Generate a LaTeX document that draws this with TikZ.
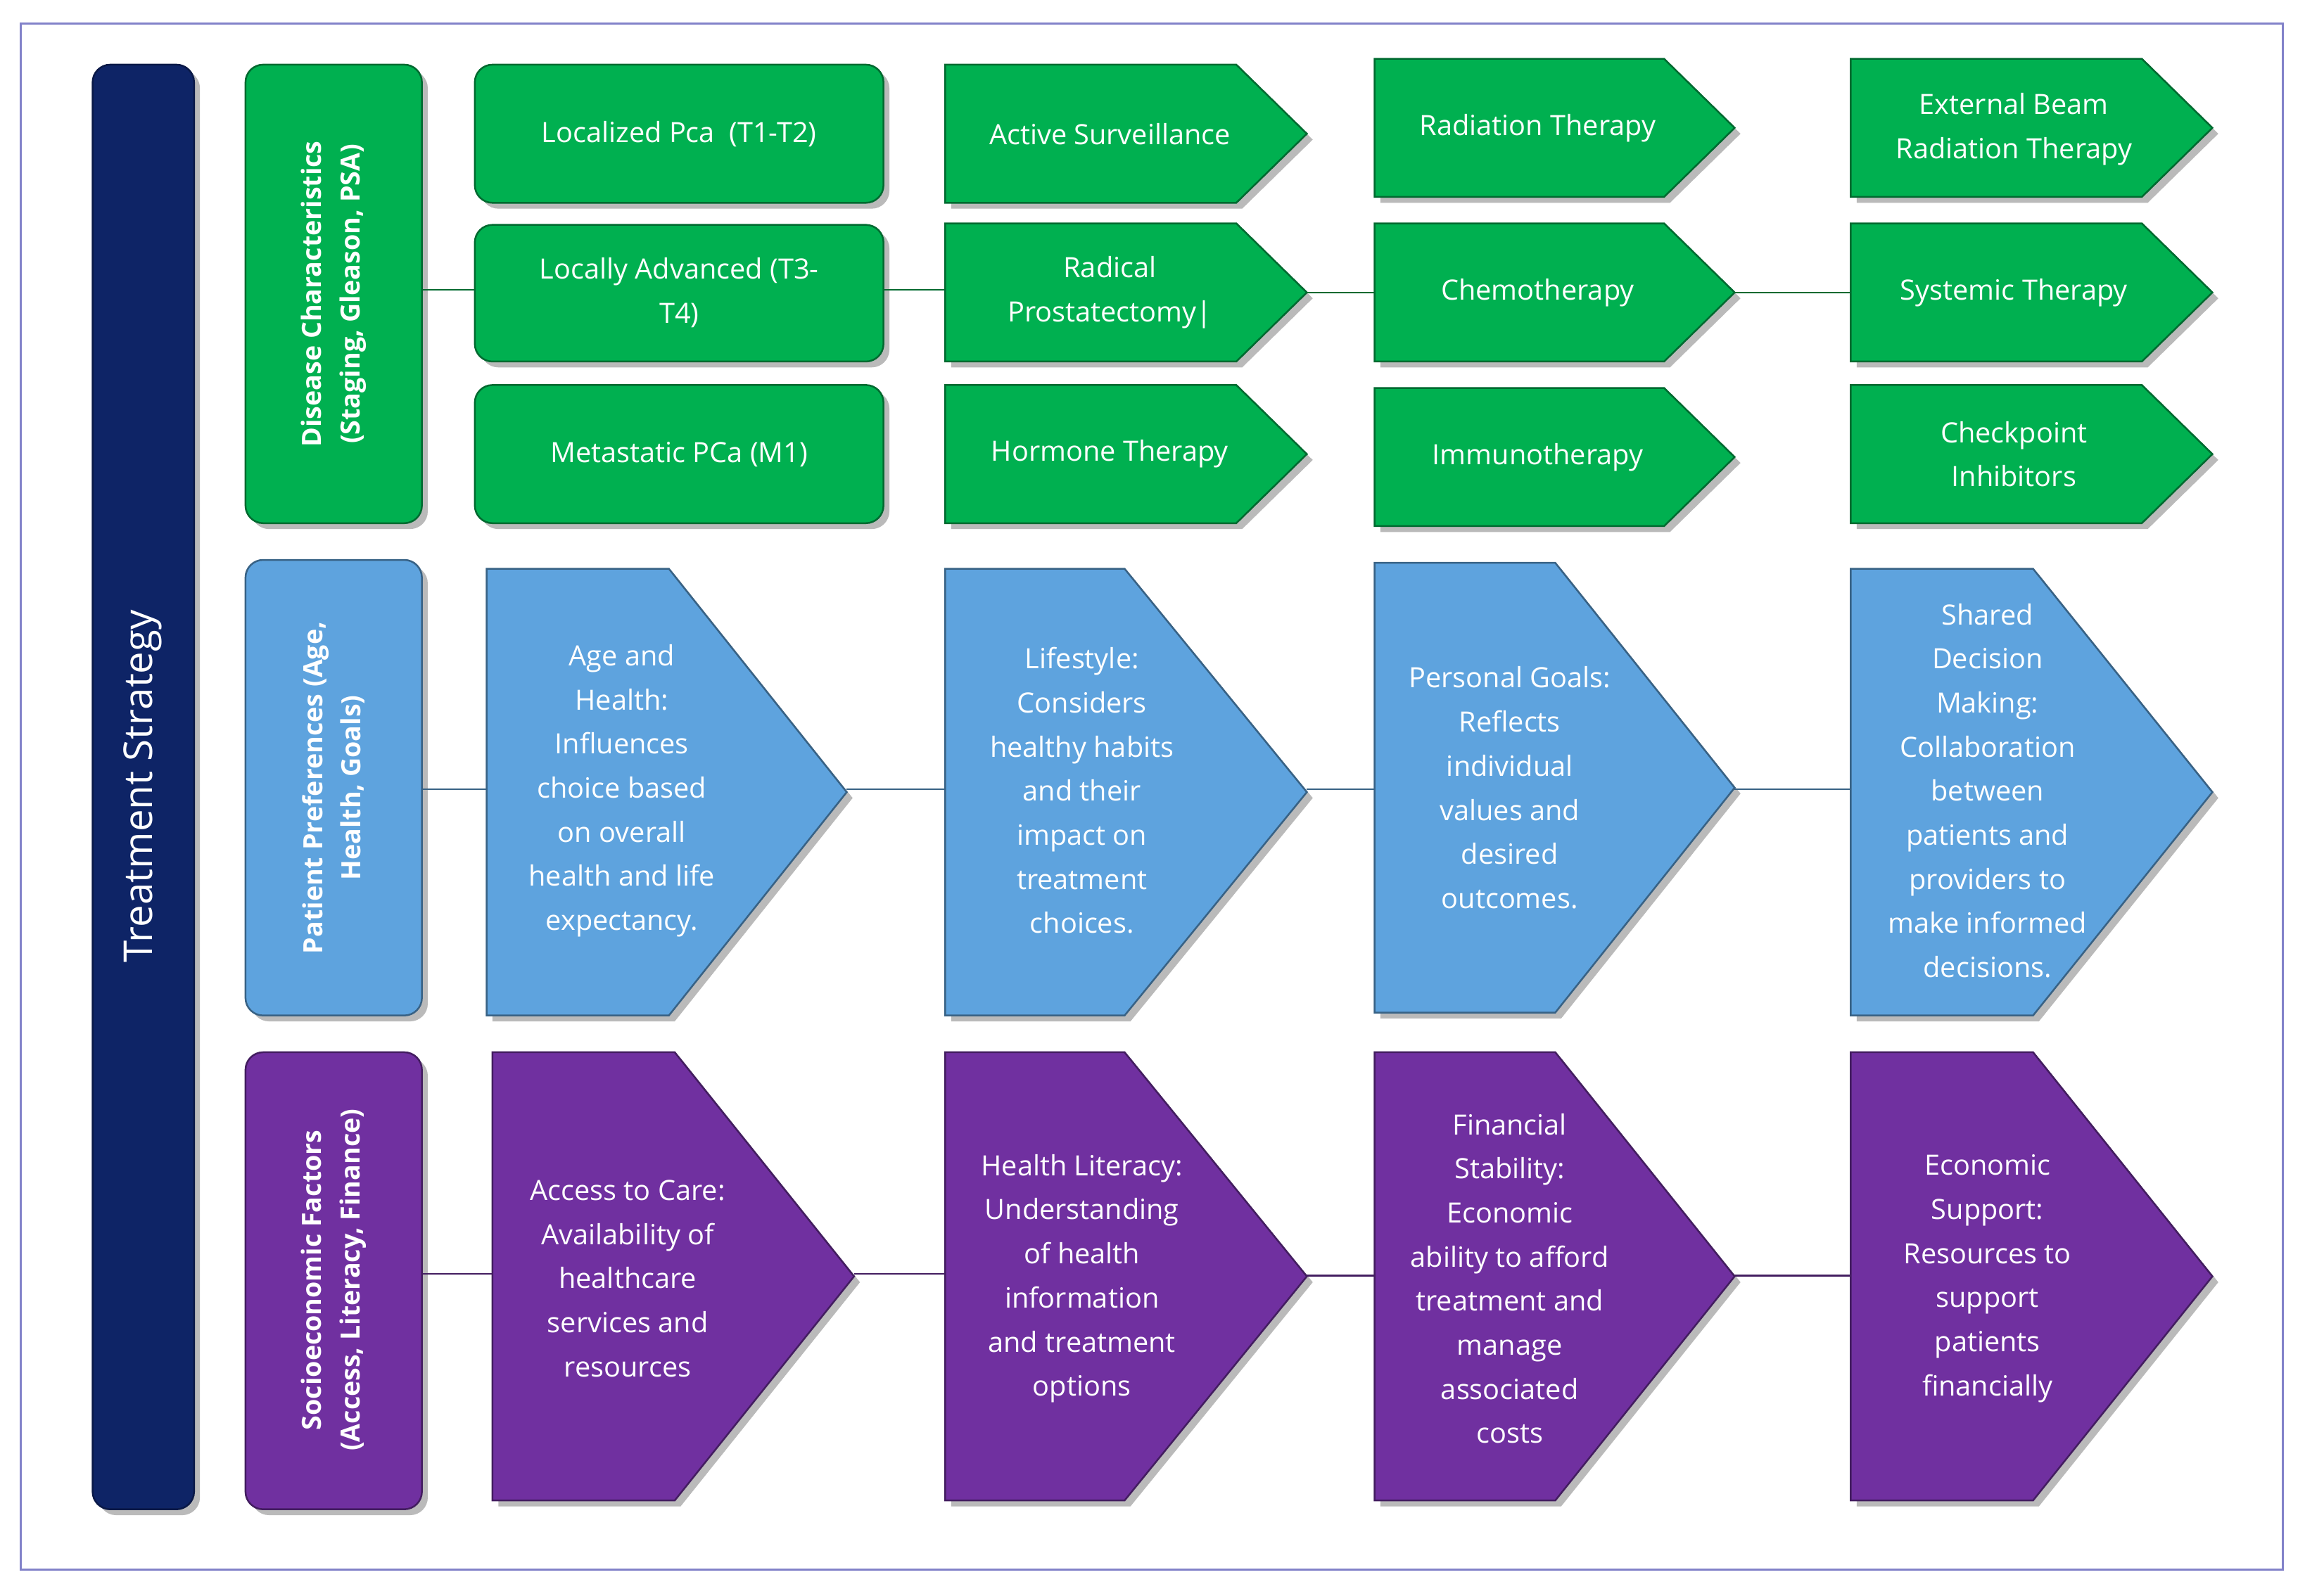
\documentclass[tikz,border=0pt]{standalone}
\usepackage{fontspec}
\setmainfont{Open Sans}
\begin{document}
\begin{tikzpicture}[x=1pt,y=-1pt,
  txt/.style={text=white,align=center,font=\fontsize{19}{30}\selectfont},
  bold/.style={text=white,align=center,font=\bfseries\fontsize{18}{26}\selectfont},
  gfill/.style={fill=green!60!black!95!teal,draw=green!35!black,line width=1.2pt},
  bfill/.style={fill=cyan!20!blue!55!white,draw=blue!50!black!70,line width=1.2pt},
  pfill/.style={fill=violet!85!purple!90!white,draw=violet!60!black,line width=1.2pt},
  shad/.style={fill=black!45,draw=none,opacity=0.6},
  conn/.style={draw=#1,line width=1pt}]
\definecolor{gC}{HTML}{00B050}\definecolor{bC}{HTML}{5EA3DE}\definecolor{pC}{HTML}{7030A0}
\definecolor{nC}{HTML}{0E2466}
\tikzset{gfill/.style={fill=gC,draw=gC!60!black,line width=1.2pt},
  bfill/.style={fill=bC,draw=bC!60!black,line width=1.2pt},
  pfill/.style={fill=pC,draw=pC!60!black,line width=1.2pt}}
\useasboundingbox (0,0) rectangle (1568,1086);
\fill[white] (0,0) rectangle (1568,1086);
\draw[draw=gray!60!blue!70,line width=1.2pt] (14,16) rectangle (1553,1068);
% chevron macro: x1 y1 x2 y2 tipstart style
\newcommand\chev[6]{%
 \fill[shad] (#1+4,#2+4) -- (#5+4,#2+4) -- (#3+4,{(#2+#4)/2+4}) -- (#5+4,#4+4) -- (#1+4,#4+4) -- cycle;
 \path[#6] (#1,#2) -- (#5,#2) -- (#3,{(#2+#4)/2}) -- (#5,#4) -- (#1,#4) -- cycle;}
\newcommand\rbox[5]{%
 \fill[shad,rounded corners=12pt] (#1+4,#2+4) rectangle (#3+4,#4+4);
 \path[#5,rounded corners=12pt] (#1,#2) rectangle (#3,#4);}
% treatment strategy
\rbox{63}{44}{132}{1027}{fill=nC,draw=nC!70!black,line width=1.2pt}
\node[rotate=90,text=white,font=\fontsize{27}{32}\selectfont] (ts) at (97,535) {Treatment Strategy};
% categories
\rbox{167}{44}{287}{356}{gfill}
\rbox{167}{381}{287}{691}{bfill}
\rbox{167}{716}{287}{1027}{pfill}
\node[bold,rotate=90] (c1) at (227,200) {Disease Characteristics\\(Staging, Gleason, PSA)};
\node[bold,rotate=90] (c2) at (227,536) {Patient Preferences (Age,\\Health, Goals)};
\node[bold,rotate=90] (c3) at (227,871) {Socioeconomic Factors\\(Access, Literacy, Finance)};
\coordinate (c1r) at (287,197); \coordinate (c2r) at (287,537); \coordinate (c3r) at (287,867);
% green column 1
\rbox{323}{44}{601}{138}{gfill}
\rbox{323}{153}{601}{246}{gfill}
\rbox{323}{262}{601}{356}{gfill}
\node[txt] (g11) at (462,91) {Localized Pca\ \ (T1-T2)};
\node[txt] (g12) at (462,199) {Locally Advanced (T3-\\T4)};
\node[txt] (g13) at (462,309) {Metastatic PCa (M1)};
% green col 2
\chev{643}{44}{889}{138}{841}{gfill}
\chev{643}{152}{889}{246}{841}{gfill}
\chev{643}{262}{889}{356}{841}{gfill}
\node[txt] (g21) at (755,91) {Active Surveillance};
\node[txt] (g22) at (755,199) {Radical\\Prostatectomy|};
\node[txt] (g23) at (755,309) {Hormone Therapy};
% green col 3
\chev{935}{40}{1180}{134}{1132}{gfill}
\chev{935}{152}{1180}{246}{1132}{gfill}
\chev{935}{264}{1180}{358}{1132}{gfill}
\node[txt] (g31) at (1046,87) {Radiation Therapy};
\node[txt] (g32) at (1046,199) {Chemotherapy};
\node[txt] (g33) at (1046,311) {Immunotherapy};
% green col 4
\chev{1259}{40}{1505}{134}{1457}{gfill}
\chev{1259}{152}{1505}{246}{1457}{gfill}
\chev{1259}{262}{1505}{356}{1457}{gfill}
\node[txt] (g41) at (1370,88) {External Beam\\Radiation Therapy};
\node[txt] (g42) at (1370,199) {Systemic Therapy};
\node[txt] (g43) at (1370,309) {Checkpoint\\Inhibitors};
% blue
\chev{331}{387}{576}{691}{455}{bfill}
\chev{643}{387}{889}{691}{765}{bfill}
\chev{935}{383}{1180}{689}{1058}{bfill}
\chev{1259}{387}{1505}{691}{1383}{bfill}
\node[txt] (b1) at (423,538) {Age and\\Health:\\Influences\\choice based\\on overall\\health and life\\expectancy.};
\node[txt] (b2) at (736,538) {Lifestyle:\\Considers\\healthy habits\\and their\\impact on\\treatment\\choices.};
\node[txt] (b3) at (1027,536) {Personal Goals:\\Reflects\\individual\\values and\\desired\\outcomes.};
\node[txt] (b4) at (1352,538) {Shared\\Decision\\Making:\\Collaboration\\between\\patients and\\providers to\\make informed\\decisions.};
% purple
\chev{335}{716}{581}{1021}{459}{pfill}
\chev{643}{716}{889}{1021}{765}{pfill}
\chev{935}{716}{1180}{1021}{1058}{pfill}
\chev{1259}{716}{1505}{1021}{1383}{pfill}
\node[txt] (p1) at (427,870) {Access to Care:\\Availability of\\healthcare\\services and\\resources};
\node[txt] (p2) at (736,870) {Health Literacy:\\Understanding\\of health\\information\\and treatment\\options};
\node[txt] (p3) at (1027,870) {Financial\\Stability:\\Economic\\ability to afford\\treatment and\\manage\\associated\\costs};
\node[txt] (p4) at (1352,870) {Economic\\Support:\\Resources to\\support\\patients\\financially};
% connectors
\coordinate (a1) at (323,197); \coordinate (a2) at (601,197); \coordinate (a3) at (643,197);
\coordinate (a4) at (889,199); \coordinate (a5) at (935,199); \coordinate (a6) at (1180,199); \coordinate (a7) at (1259,199);
\draw[conn=gC!60!black] (c1r) -- (a1) (a2) -- (a3) (a4) -- (a5) (a6) -- (a7);
\coordinate (bb1) at (331,537); \coordinate (bb2) at (576,537); \coordinate (bb3) at (643,537);
\coordinate (bb4) at (889,537); \coordinate (bb5) at (935,537); \coordinate (bb6) at (1180,537); \coordinate (bb7) at (1259,537);
\draw[conn=bC!60!black] (c2r) -- (bb1) (bb2) -- (bb3) (bb4) -- (bb5) (bb6) -- (bb7);
\coordinate (pp1) at (335,867); \coordinate (pp2) at (581,867); \coordinate (pp3) at (643,867);
\coordinate (pp4) at (889,868); \coordinate (pp5) at (935,868); \coordinate (pp6) at (1180,868); \coordinate (pp7) at (1259,868);
\draw[conn=pC!60!black] (c3r) -- (pp1) (pp2) -- (pp3) (pp4) -- (pp5) (pp6) -- (pp7);
\end{tikzpicture}
\end{document}
